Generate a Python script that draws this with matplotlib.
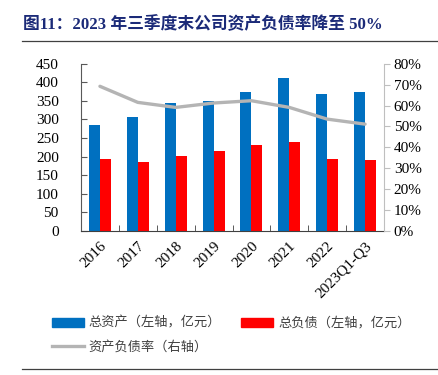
import numpy as np
import matplotlib
matplotlib.use('Agg')
import matplotlib.pyplot as plt
from matplotlib.patches import Patch
from matplotlib.lines import Line2D

plt.rcParams['font.family'] = ['Liberation Serif', 'Noto Sans CJK SC']

# ============================== DATA ============================== #
years = ['2016', '2017', '2018', '2019', '2020', '2021', '2022', '2023Q1-Q3']
total_assets = [284, 306, 343, 351, 375, 411, 368, 374]       # 亿元
total_debt = [195, 186, 201, 214, 230, 239, 194, 190]         # 亿元
debt_ratio = [69.2, 61.5, 59.1, 61.2, 62.3, 59.1, 53.5, 51.1]  # %

left_ticks = [0, 50, 100, 150, 200, 250, 300, 350, 400, 450]
right_ticks = [0, 10, 20, 30, 40, 50, 60, 70, 80]

legend_labels = ['总资产（左轴，亿元）', '总负债（左轴，亿元）', '资产负债率（右轴）']

# ============================= FIGURE ============================= #
W, H = 438, 375
fig = plt.figure(figsize=(W / 100, H / 100), dpi=100)

def px_rect(x0, y0, x1, y1):
    return [x0 / W, 1 - y1 / H, (x1 - x0) / W, (y1 - y0) / H]

ax = fig.add_axes(px_rect(81, 63.7, 384, 231))
ax2 = ax.twinx()

x = np.arange(len(years))
bw = 0.29
c_blue, c_red, c_gray = '#0070C0', '#FF0000', '#B4B4B4'
ax.bar(x - bw / 2, total_assets, width=bw, color=c_blue, zorder=2)
ax.bar(x + bw / 2, total_debt, width=bw, color=c_red, zorder=2)
ax2.plot(x, debt_ratio, color=c_gray, lw=2.4, solid_capstyle='round')

ax.set_xlim(-0.5, len(years) - 0.5)
ax.set_ylim(0, 450)
ax2.set_ylim(0, 80)

tick_font = dict(family='Liberation Serif', size=11)
ax.set_yticks(left_ticks, [str(v) for v in left_ticks], **tick_font)
ax2.set_yticks(right_ticks, [f'{v}%' for v in right_ticks], **tick_font)
ax.set_xticks(x, years, rotation=45, ha='right', va='top', rotation_mode='anchor', **tick_font)
ax.set_xticks(np.arange(-0.5, len(years)), minor=True)

ax.tick_params(axis='x', which='major', length=0, pad=6)
ax.tick_params(axis='x', which='minor', direction='in', length=4, color='#404040')
ax.tick_params(axis='y', direction='in', length=4, color='#595959', pad=16)
ax2.tick_params(axis='y', direction='out', length=4, color='#BFBFBF', pad=3)

for s in ['top']:
    ax.spines[s].set_visible(False)
    ax2.spines[s].set_visible(False)
ax.spines['right'].set_visible(False)
ax2.spines['left'].set_visible(False)
ax2.spines['bottom'].set_visible(False)
ax.spines['left'].set_color('#595959')
ax.spines['bottom'].set_color('#404040')
ax2.spines['right'].set_color('#BFBFBF')

# title and rules
fig.text(23 / W, 1 - 25 / H, '图11：2023 年三季度末公司资产负债率降至 50%',
         fontsize=12.1, fontweight='bold', color='#1B2A78', va='center', ha='left',
         family=['Liberation Serif', 'Noto Sans CJK SC'])
fig.add_artist(Line2D([22 / W, 1], [1 - 41 / H, 1 - 41 / H], color='#404040', lw=0.9))
fig.add_artist(Line2D([22 / W, 1], [1 - 369 / H, 1 - 369 / H], color='#404040', lw=0.9))

# legend
handles = [Patch(color=c_blue), Line2D([], [], color=c_gray, lw=2.4), Patch(color=c_red)]
labels = [legend_labels[0], legend_labels[2], legend_labels[1]]
fig.legend(handles, labels, ncol=2, loc='upper left', bbox_to_anchor=(40 / W, 1 - 305 / H),
           frameon=False, handlelength=2.4, handletextpad=0.4, columnspacing=1.5,
           labelspacing=0.8, labelcolor='#404040',
           prop=dict(family='Noto Sans CJK SC', size=9.5))

fig.savefig('out.png', dpi=100)
